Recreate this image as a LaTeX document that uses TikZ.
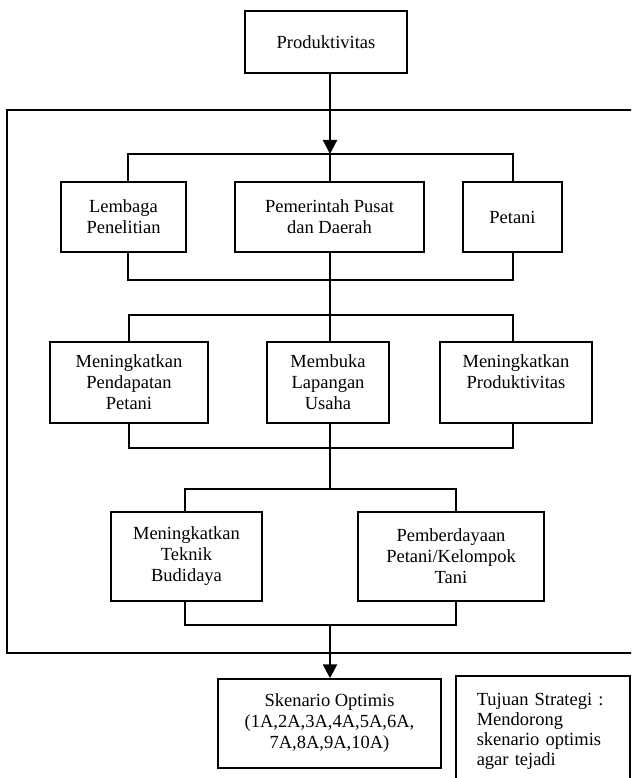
\documentclass[tikz,border=0pt]{standalone}
\usepackage{fontspec}
\setmainfont{Liberation Serif}
\usetikzlibrary{arrows.meta}
\begin{document}
\begin{tikzpicture}[x=1pt,y=-1pt, font=\fontsize{18.5}{21}\selectfont,
  box/.style={draw, line width=1.5pt, align=center, inner sep=0pt},
  link/.style={line width=1.1pt},
  bigarrow/.style={line width=2.3pt, -{Triangle[length=14pt,width=14pt]}},
  frame/.style={line width=1.3pt}]
\useasboundingbox (0,0) rectangle (631,778);
\clip (0,0) rectangle (631,778);
% nodes
\node[box, minimum width=162pt, minimum height=62pt] (prod) at (326,42) {Produktivitas};
\node[box, minimum width=125pt, minimum height=70pt] (lem) at (123.5,217) {Lembaga\\Penelitian};
\node[box, minimum width=189pt, minimum height=70pt] (pem) at (329.5,217) {Pemerintah Pusat\\dan Daerah};
\node[box, minimum width=99pt, minimum height=70pt] (pet) at (512.5,217) {Petani};
\node[box, minimum width=158pt, minimum height=81pt] (pend) at (129,382.5) {Meningkatkan\\Pendapatan\\Petani};
\node[box, minimum width=122pt, minimum height=81pt] (lap) at (328,382.5) {Membuka\\Lapangan\\Usaha};
\node[box, minimum width=152pt, minimum height=81pt] (prodv) at (516,382.5) {Meningkatkan\\Produktivitas\\\mbox{}};
\node[box, minimum width=151pt, minimum height=89pt] (tek) at (186.5,556.5) {Meningkatkan\\Teknik\\Budidaya};
\node[box, minimum width=186pt, minimum height=89pt] (pemb) at (451,556.5) {Pemberdayaan\\Petani/Kelompok\\Tani};
\node[box, minimum width=223pt, minimum height=89pt] (sk) at (329.5,723.5) {Skenario Optimis\\(1A,2A,3A,4A,5A,6A,\\7A,8A,9A,10A)};
\node[box, anchor=north west, minimum height=112pt, text width=132pt, inner xsep=21pt, align=left,
  font=\fontsize{18.5}{20}\selectfont] (tuj) at (455,675)
  {Tujuan Strategi :\\Mendorong\\skenario optimis\\agar tejadi};
% frame
\draw[frame] (7,110) rectangle (700,653);
% coordinates of brackets
\coordinate (t1L) at (128,154); \coordinate (t1R) at (513,154); \coordinate (t1C) at (330,154);
\coordinate (b1L) at (128,280); \coordinate (b1R) at (513,280); \coordinate (b1C) at (330,280);
\coordinate (t2L) at (129,315); \coordinate (t2R) at (513,315); \coordinate (t2C) at (330,315);
\coordinate (b2L) at (129,448); \coordinate (b2R) at (513,448); \coordinate (b2C) at (330,448);
\coordinate (t3L) at (185,489); \coordinate (t3R) at (456,489); \coordinate (t3C) at (330,489);
\coordinate (b3L) at (185,625); \coordinate (b3R) at (456,625); \coordinate (b3C) at (330,625);
% connectors
\draw[bigarrow] (prod.south -| t1C) -- (t1C);
\draw[link] (t1L |- lem.north) -- (t1L) -- (t1R) -- (t1R |- pet.north);
\draw[link] (t1C) -- (t1C |- pem.north);
\draw[link] (b1L |- lem.south) -- (b1L) -- (b1R) -- (b1R |- pet.south);
\draw[link] (b1C |- pem.south) -- (t2C |- lap.north);
\draw[link] (t2L |- pend.north) -- (t2L) -- (t2R) -- (t2R |- prodv.north);
\draw[link] (b2L |- pend.south) -- (b2L) -- (b2R) -- (b2R |- prodv.south);
\draw[link] (b2C |- lap.south) -- (t3C);
\draw[link] (t3L |- tek.north) -- (t3L) -- (t3R) -- (t3R |- pemb.north);
\draw[link] (b3L |- tek.south) -- (b3L) -- (b3R) -- (b3R |- pemb.south);
\draw[bigarrow] (b3C) -- (b3C |- sk.north);
\end{tikzpicture}
\end{document}
